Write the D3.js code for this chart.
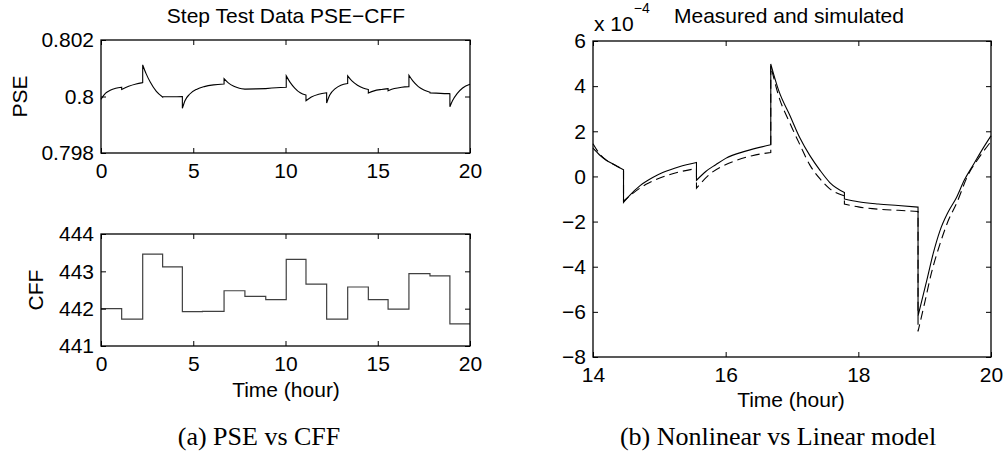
<!DOCTYPE html>
<html lang="en">
<head>
<meta charset="utf-8">
<title>Step Test Data PSE-CFF</title>
<script src="https://d3js.org/d3.v7.min.js"></script>
<style>
  body { margin: 0; background: #fff; }
  svg text { font-family: "Liberation Sans", Arial, sans-serif; fill: #000; }
  .caption { font-family: "Liberation Serif", "Times New Roman", serif !important; }
</style>
</head>
<body>
<script>
// ---- values ----
const leftTicksX  = [0, 5, 10, 15, 20];
const pseTicksY   = [0.798, 0.8, 0.802];
const cffTicksY   = [441, 442, 443, 444];
const rightTicksX = [14, 16, 18, 20];
const rightTicksY = [-8, -6, -4, -2, 0, 2, 4, 6];

// CFF step changes (hours) and the level held after each one
const stepTimes = [0, 1.12, 2.26, 3.34, 4.41, 5.5, 6.67, 7.8, 8.93, 10.04, 11.11,
                   12.23, 13.37, 14.49, 15.56, 16.69, 17.83, 18.91, 20];
const cffLevels = [442.0, 441.72, 443.46, 443.12, 441.92, 441.93, 442.48, 442.33, 442.24,
                   443.32, 442.66, 441.72, 442.58, 442.24, 441.99, 442.94, 442.88, 441.59];

// PSE, a repeated time means a jump
const pseTime = [0, 0.25, 0.5, 0.8, 1.12,
                 1.12, 1.5, 1.9, 2.26,
                 2.26, 2.45, 2.66, 3.0, 3.34,
                 3.34, 3.9, 4.41,
                 4.41, 4.55, 4.8, 5.2, 5.6, 6.1, 6.67,
                 6.67, 6.9, 7.2, 7.5, 7.8,
                 7.8, 8.4, 8.93,
                 8.93, 9.5, 10.04,
                 10.04, 10.25, 10.5, 10.8, 11.11,
                 11.11, 11.4, 11.8, 12.23,
                 12.23, 12.4, 12.7, 13.0, 13.37,
                 13.37, 13.6, 13.9, 14.2, 14.49,
                 14.49, 14.8, 15.2, 15.56,
                 15.56, 15.9, 16.3, 16.69,
                 16.69, 16.9, 17.2, 17.5, 17.83,
                 17.83, 18.4, 18.91,
                 18.91, 19.05, 19.3, 19.6, 20];
const pseValue = [0.79990, 0.80012, 0.80022, 0.80029, 0.80033,
                  0.80025, 0.80036, 0.80044, 0.80049,
                  0.80112, 0.80080, 0.80052, 0.80018, 0.79998,
                  0.79999, 0.79999, 0.80000,
                  0.79958, 0.79985, 0.80008, 0.80026, 0.80035, 0.80041, 0.80044,
                  0.80063, 0.80048, 0.80036, 0.80029, 0.80026,
                  0.80026, 0.80027, 0.80028,
                  0.80028, 0.80031, 0.80033,
                  0.80073, 0.80050, 0.80030, 0.80013, 0.80005,
                  0.79985, 0.79998, 0.80008, 0.80013,
                  0.79977, 0.80005, 0.80028, 0.80040, 0.80046,
                  0.80073, 0.80055, 0.80040, 0.80030, 0.80025,
                  0.80012, 0.80020, 0.80025, 0.80028,
                  0.80020, 0.80028, 0.80033, 0.80035,
                  0.80075, 0.80055, 0.80035, 0.80023, 0.80015,
                  0.80013, 0.80011, 0.80010,
                  0.79964, 0.79985, 0.80010, 0.80030, 0.80043];

// right panel, x 1e-4
const measTime = [14.0, 14.1, 14.2, 14.3, 14.46,
                  14.46, 14.55, 14.71, 14.9, 15.06, 15.3, 15.56,
                  15.56, 15.7, 15.85, 16.0, 16.3, 16.68,
                  16.68, 16.8, 16.97, 17.12, 17.27, 17.42, 17.57, 17.79,
                  17.79, 18.0, 18.3, 18.6, 18.9,
                  18.9, 19.03, 19.13, 19.23, 19.35, 19.48, 19.6, 19.74, 19.87, 20.0];
const measValue = [1.25, 0.95, 0.72, 0.55, 0.30,
                   -1.15, -0.85, -0.41, -0.05, 0.18, 0.43, 0.62,
                   -0.17, 0.22, 0.52, 0.80, 1.12, 1.40,
                   4.98, 3.80, 2.69, 1.70, 0.92, 0.28, -0.27, -0.71,
                   -1.00, -1.12, -1.22, -1.29, -1.36,
                   -6.18, -4.63, -3.40, -2.41, -1.60, -0.93, -0.15, 0.55, 1.20, 1.80];
const simTime = [14.0, 14.1, 14.2, 14.3, 14.46,
                 14.46, 14.6, 14.8, 14.96, 15.2, 15.56,
                 15.56, 15.76, 15.95, 16.17, 16.4, 16.68,
                 16.68, 16.8, 16.97, 17.12, 17.27, 17.42, 17.57, 17.79,
                 17.79, 18.0, 18.3, 18.6, 18.9,
                 18.9, 19.0, 19.1, 19.23, 19.35, 19.48, 19.66, 19.8, 20.0];
const simValue = [1.45, 1.00, 0.72, 0.55, 0.30,
                  -1.10, -0.75, -0.35, -0.12, 0.12, 0.35,
                  -0.52, 0.10, 0.45, 0.72, 0.92, 1.06,
                  4.90, 3.55, 2.35, 1.40, 0.50, -0.10, -0.55, -0.86,
                  -1.22, -1.35, -1.45, -1.50, -1.55,
                  -6.87, -5.60, -4.30, -3.00, -2.00, -1.20, 0.10, 0.75, 1.55];

const W = 1004, H = 457;
const fs = 21;
const fmt = d3.format("");

const svg = d3.select("body").append("svg")
    .attr("width", W)
    .attr("height", H)
    .style("background-color", "#FFFFFF");

// split a series at repeated times, draw smooth pieces joined by vertical jumps
function segments(ts, vs) {
    const segs = [[]];
    ts.forEach((t, i) => {
        if (i > 0 && t === ts[i - 1]) segs.push([]);
        segs[segs.length - 1].push([t, vs[i]]);
    });
    return segs;
}
function jumpPath(ts, vs, x, y) {
    const line = d3.line().x(d => x(d[0])).y(d => y(d[1])).curve(d3.curveMonotoneX);
    return segments(ts, vs).map((s, i) => {
        const p = line(s);
        return i === 0 ? p : "L" + p.slice(1);
    }).join("");
}

// axes box with inward ticks on all four sides
function frame(x, y, xTicks, yTicks) {
    const [x0, x1] = x.range();
    const [y1, y0] = y.range();
    const g = svg.append("g");

    const styleAxis = sel => {
        sel.select(".domain").remove();
        sel.selectAll(".tick line").attr("stroke", "#000").attr("stroke-width", 1);
        sel.selectAll("text").attr("font-size", fs + "px")
            .attr("font-family", "Liberation Sans, Arial, sans-serif").attr("fill", "#000");
    };

    g.append("g").attr("transform", `translate(0,${y1})`)
        .call(d3.axisBottom(x).tickValues(xTicks).tickSizeInner(-5).tickSizeOuter(0)
            .tickPadding(10).tickFormat(fmt))
        .call(styleAxis);
    g.append("g").attr("transform", `translate(0,${y0})`)
        .call(d3.axisTop(x).tickValues(xTicks).tickSizeInner(-5).tickSizeOuter(0).tickFormat(""))
        .call(styleAxis);
    g.append("g").attr("transform", `translate(${x0},0)`)
        .call(d3.axisLeft(y).tickValues(yTicks).tickSizeInner(-5).tickSizeOuter(0)
            .tickPadding(7).tickFormat(fmt))
        .call(styleAxis);
    g.append("g").attr("transform", `translate(${x1},0)`)
        .call(d3.axisRight(y).tickValues(yTicks).tickSizeInner(-5).tickSizeOuter(0).tickFormat(""))
        .call(styleAxis);

    g.append("rect")
        .attr("x", x0).attr("y", y0)
        .attr("width", x1 - x0).attr("height", y1 - y0)
        .attr("fill", "none").attr("stroke", "#000").attr("stroke-width", 1.3);
}

// ---- (a) top: PSE ----
const xL = d3.scaleLinear().domain([0, 20]).range([101, 470]);
const yPse = d3.scaleLinear().domain([0.798, 0.802]).range([153, 40]);

svg.append("path")
    .attr("d", jumpPath(pseTime, pseValue, xL, yPse))
    .attr("fill", "none").attr("stroke", "#000").attr("stroke-width", 1.1);
frame(xL, yPse, leftTicksX, pseTicksY);

svg.append("text")
    .attr("x", 286).attr("y", 23)
    .attr("text-anchor", "middle").attr("font-size", fs + "px")
    .text("Step Test Data PSE\u2212CFF");
svg.append("text")
    .attr("transform", "translate(27,96.5) rotate(-90)")
    .attr("text-anchor", "middle").attr("font-size", fs + "px")
    .text("PSE");

// ---- (a) bottom: CFF ----
const yCff = d3.scaleLinear().domain([441, 444]).range([346, 234]);
const cffPts = stepTimes.map((t, i) => [t, cffLevels[Math.min(i, cffLevels.length - 1)]]);

svg.append("path")
    .attr("d", d3.line().x(d => xL(d[0])).y(d => yCff(d[1])).curve(d3.curveStepAfter)(cffPts))
    .attr("fill", "none").attr("stroke", "#404040").attr("stroke-width", 1.2);
frame(xL, yCff, leftTicksX, cffTicksY);

svg.append("text")
    .attr("transform", "translate(43,290) rotate(-90)")
    .attr("text-anchor", "middle").attr("font-size", fs + "px")
    .text("CFF");
svg.append("text")
    .attr("x", 286).attr("y", 397)
    .attr("text-anchor", "middle").attr("font-size", fs + "px")
    .text("Time (hour)");

// ---- (b) measured and simulated ----
const xR = d3.scaleLinear().domain([14, 20]).range([593, 991]);
const yR = d3.scaleLinear().domain([-8, 6]).range([357, 41]);

svg.append("path")
    .attr("d", jumpPath(simTime, simValue, xR, yR))
    .attr("fill", "none").attr("stroke", "#000").attr("stroke-width", 1.1)
    .attr("stroke-dasharray", "9,5");
svg.append("path")
    .attr("d", jumpPath(measTime, measValue, xR, yR))
    .attr("fill", "none").attr("stroke", "#000").attr("stroke-width", 1.1);
frame(xR, yR, rightTicksX, rightTicksY);

svg.append("text")
    .attr("x", 789).attr("y", 23)
    .attr("text-anchor", "middle").attr("font-size", fs + "px")
    .text("Measured and simulated");
const expo = svg.append("text")
    .attr("x", 594).attr("y", 31)
    .attr("font-size", fs + "px")
    .text("x 10");
expo.append("tspan")
    .attr("dy", -18).attr("font-size", "14px")
    .text("\u22124");
svg.append("text")
    .attr("x", 791).attr("y", 407)
    .attr("text-anchor", "middle").attr("font-size", fs + "px")
    .text("Time (hour)");

// ---- captions ----
svg.append("text")
    .attr("class", "caption")
    .attr("x", 259).attr("y", 445)
    .attr("text-anchor", "middle").attr("font-size", "26px")
    .text("(a) PSE vs CFF");
svg.append("text")
    .attr("class", "caption")
    .attr("x", 778).attr("y", 445)
    .attr("text-anchor", "middle").attr("font-size", "26px")
    .text("(b) Nonlinear vs Linear model");
</script>
</body>
</html>
